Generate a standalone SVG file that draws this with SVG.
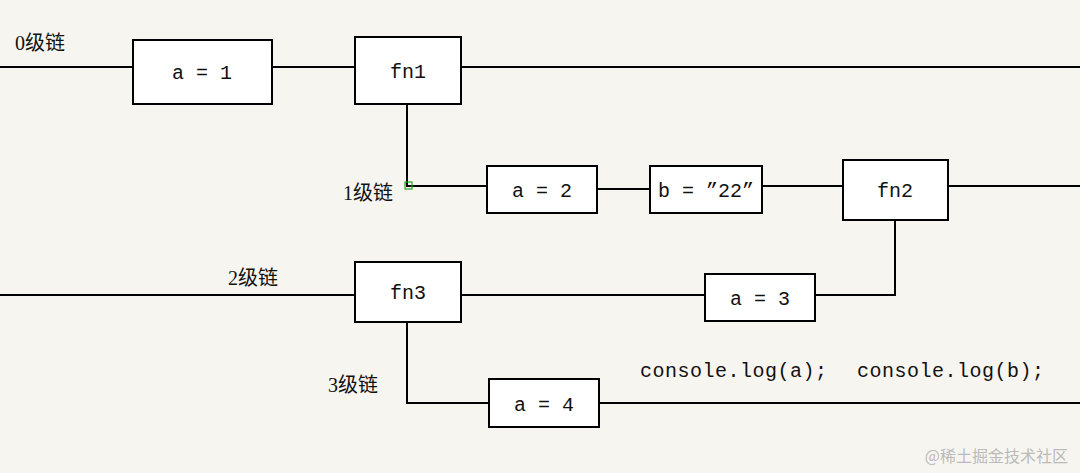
<svg xmlns="http://www.w3.org/2000/svg" width="1080" height="473" viewBox="0 0 1080 473">
<style>
.b{fill:#fff;stroke:#000;stroke-width:2}
.l{stroke:#000;stroke-width:2;fill:none}
.t{font-family:"Liberation Mono","Noto Sans CJK SC",monospace;font-size:20px;fill:#111}
.c{font-family:"Liberation Serif","Noto Sans CJK SC",serif;font-size:20px;fill:#111}
</style>
<rect width="1080" height="473" fill="#f7f5f0"/>
<g id="connectors">
<path class="l" d="M0 67H133M272 67H355M461 67H1080"/>
<path class="l" d="M407 104V186H487M597 189H650M762 186H843M948 186H1080"/>
<path class="l" d="M895 220V295H815M461 295H705M0 295H355"/>
<path class="l" d="M407 322V403H489M599 403H1080"/>
<rect x="405" y="182" width="7" height="7" fill="none" stroke="#2a2" stroke-width="1.2"/>
</g>
<g id="n_a1"><rect class="b" x="133" y="40" width="139" height="64"/><text class="t" x="202" y="79" text-anchor="middle">a = 1</text></g>
<g id="n_fn1"><rect class="b" x="355" y="37" width="106" height="67"/><text class="t" x="408" y="78" text-anchor="middle">fn1</text></g>
<g id="n_a2"><rect class="b" x="487" y="166" width="110" height="47"/><text class="t" x="542" y="197" text-anchor="middle">a = 2</text></g>
<g id="n_b"><rect class="b" x="650" y="166" width="112" height="47"/><text class="t" x="706" y="197" text-anchor="middle">b = ”22”</text></g>
<g id="n_fn2"><rect class="b" x="843" y="160" width="105" height="60"/><text class="t" x="895" y="197" text-anchor="middle">fn2</text></g>
<g id="n_a3"><rect class="b" x="705" y="274" width="110" height="47"/><text class="t" x="760" y="305" text-anchor="middle">a = 3</text></g>
<g id="n_fn3"><rect class="b" x="355" y="262" width="106" height="60"/><text class="t" x="408" y="299" text-anchor="middle">fn3</text></g>
<g id="n_a4"><rect class="b" x="489" y="379" width="110" height="48"/><text class="t" x="544" y="411" text-anchor="middle">a = 4</text></g>
<g id="labels">
<text class="c" x="15" y="50">0级链</text>
<text class="c" x="343" y="200">1级链</text>
<text class="c" x="228" y="285">2级链</text>
<text class="c" x="328" y="392">3级链</text>
<text class="t" x="640" y="377" textLength="187">console.log(a);</text>
<text class="t" x="857" y="377" textLength="187">console.log(b);</text>
<text x="1068" y="462" text-anchor="end" font-family="Noto Sans CJK SC,sans-serif" font-size="16" fill="#bbb">@稀土掘金技术社区</text>
</g>
</svg>
